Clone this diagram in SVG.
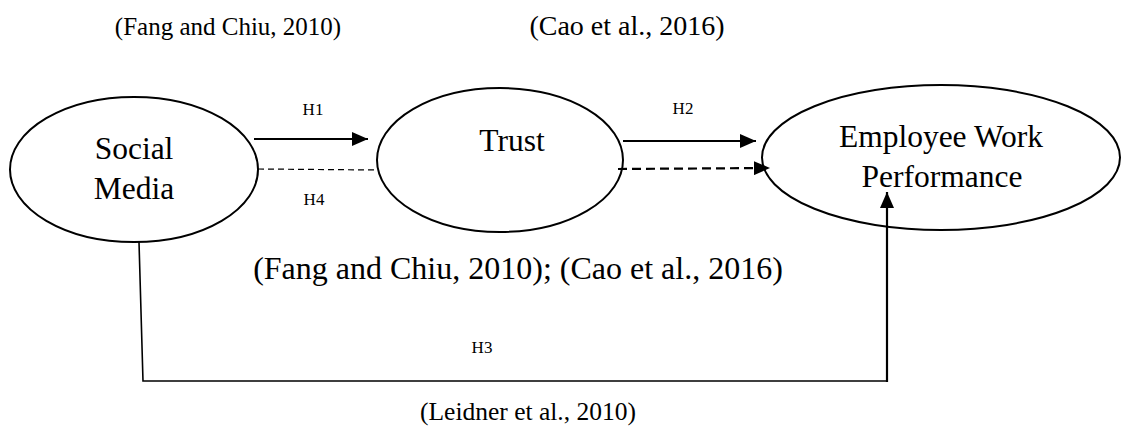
<svg xmlns="http://www.w3.org/2000/svg" width="1123" height="432" viewBox="0 0 1123 432">
  <style>
    .node { fill: #ffffff; stroke: #000000; stroke-width: 2; }
    .label { font-family: "Liberation Serif", "Times New Roman", serif; fill: #000000; }
    .big { font-size: 31.5px; }
    .hyp { font-size: 17px; }
    .solid { stroke: #000000; stroke-width: 2.2; fill: none; }
    .thin-dash { stroke: #000000; stroke-width: 1.2; stroke-dasharray: 6 4; fill: none; }
    .thick-dash { stroke: #000000; stroke-width: 2.2; stroke-dasharray: 9 5; fill: none; }
    .frame { stroke: #000000; stroke-width: 1.6; fill: none; }
  </style>
  <defs>
    <marker id="arrow" viewBox="0 0 16 14" refX="16" refY="7" markerWidth="16" markerHeight="14" markerUnits="userSpaceOnUse" orient="auto">
      <path d="M0,0 L16,7 L0,14 Z" fill="#000000"/>
    </marker>
  </defs>

  <rect width="1123" height="432" fill="#ffffff"/>

  <!-- citations -->
  <text class="label" style="font-size:25px" x="228" y="35" text-anchor="middle">(Fang and Chiu, 2010)</text>
  <text class="label" style="font-size:28px" x="627" y="35" text-anchor="middle">(Cao et al., 2016)</text>
  <text class="label" style="font-size:32px" x="518" y="279" text-anchor="middle">(Fang and Chiu, 2010); (Cao et al., 2016)</text>
  <text class="label" style="font-size:25.5px" x="528" y="420" text-anchor="middle">(Leidner et al., 2010)</text>

  <g id="social-media">
    <ellipse class="node" cx="134" cy="169.5" rx="124" ry="72.5"/>
    <text class="label big" x="134" y="159" text-anchor="middle">Social</text>
    <text class="label big" x="134" y="199" text-anchor="middle">Media</text>
  </g>

  <g id="trust">
    <ellipse class="node" cx="500" cy="160" rx="123" ry="72"/>
    <text class="label big" x="512" y="151" text-anchor="middle">Trust</text>
  </g>

  <g id="employee-work-performance">
    <ellipse class="node" cx="941" cy="157.5" rx="179" ry="72.5"/>
    <text class="label big" x="941" y="147" text-anchor="middle">Employee Work</text>
    <text class="label big" x="942" y="187" text-anchor="middle">Performance</text>
  </g>

  <!-- connectors, drawn over the ellipses -->
  <g id="connectors">
    <line class="solid" x1="254" y1="139" x2="368" y2="139" marker-end="url(#arrow)"/>
    <line class="thin-dash" x1="258" y1="169" x2="377" y2="170"/>
    <line class="solid" x1="623" y1="141" x2="756" y2="141" marker-end="url(#arrow)"/>
    <line class="thick-dash" x1="618" y1="169" x2="770" y2="168" marker-end="url(#arrow)"/>
    <polyline class="frame" points="139,242 143,381 887,381"/>
    <line class="solid" x1="887" y1="382" x2="887" y2="192" marker-end="url(#arrow)"/>
    <text class="label hyp" x="313" y="115" text-anchor="middle">H1</text>
    <text class="label hyp" x="314" y="205" text-anchor="middle">H4</text>
    <text class="label hyp" x="683" y="114" text-anchor="middle">H2</text>
    <text class="label hyp" x="482" y="353" text-anchor="middle">H3</text>
  </g>
</svg>
